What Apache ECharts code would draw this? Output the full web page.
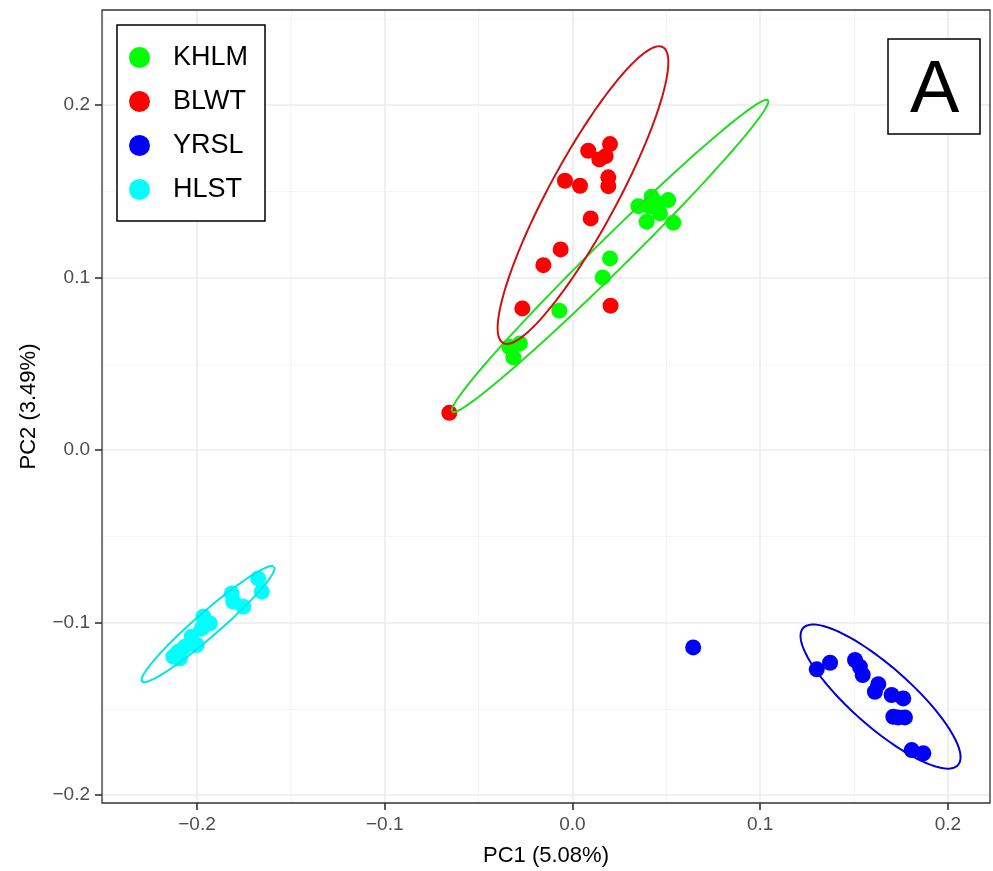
<!DOCTYPE html>
<html lang="en">
<head>
    <meta charset="UTF-8">
    <title>PCA</title>
    <script type="text/javascript" src="https://cdn.jsdelivr.net/npm/echarts@6/dist/echarts.min.js"></script>
    <style>
        html, body { margin: 0; padding: 0; background: #fff; }
    </style>
</head>
<body>
<div id="main" style="width: 993px;height: 871px"></div>
</body>
<script>
    // group names and colours
    var groups = ["KHLM", "BLWT", "YRSL", "HLST"];
    var pointColors = ["#00FF00", "#FF0000", "#0000FF", "#00FFFF"];
    var lineColors = ["#22DD22", "#CC1111", "#0000D8", "#00E6E6"];

    // PC1, PC2 scores
    var khlm = [
        [0.0351, 0.1414], [0.0422, 0.1469], [0.0510, 0.1449], [0.0466, 0.1372], [0.0395, 0.1324],
        [0.0537, 0.1318], [0.0413, 0.1411], [0.0457, 0.1430], [0.0200, 0.1111], [0.0161, 0.1001],
        [-0.0070, 0.0808], [-0.0280, 0.0618], [-0.0315, 0.0537], [-0.0337, 0.0599]
    ];
    var blwt = [
        [0.0200, 0.1774], [0.0084, 0.1735], [0.0143, 0.1685], [0.0177, 0.1704], [-0.0040, 0.1561],
        [0.0040, 0.1532], [0.0191, 0.1581], [0.0191, 0.1530], [0.0097, 0.1343], [-0.0063, 0.1163],
        [-0.0155, 0.1072], [-0.0267, 0.0821], [0.0203, 0.0837], [-0.0656, 0.0216]
    ];
    var yrsl = [
        [0.0643, -0.1144], [0.1301, -0.1271], [0.1372, -0.1233], [0.1505, -0.1217], [0.1531, -0.1256],
        [0.1546, -0.1304], [0.1629, -0.1357], [0.1611, -0.1401], [0.1700, -0.1420], [0.1762, -0.1440],
        [0.1709, -0.1546], [0.1771, -0.1550], [0.1735, -0.1550], [0.1807, -0.1739], [0.1869, -0.1758]
    ];
    var hlst = [
        [-0.1674, -0.0744], [-0.1655, -0.0821], [-0.1815, -0.0831], [-0.1807, -0.0879], [-0.1753, -0.0908],
        [-0.1966, -0.0966], [-0.1931, -0.1005], [-0.1975, -0.1034], [-0.2028, -0.1082], [-0.2002, -0.1130],
        [-0.2064, -0.1140], [-0.2100, -0.1169], [-0.2126, -0.1198], [-0.2091, -0.1208]
    ];
    var groupData = [khlm, blwt, yrsl, hlst];

    // 95% ellipses: centre, half major axis, half minor axis (data units)
    var ellCentre = [[0.0200, 0.1125], [0.0056, 0.1478], [0.1641, -0.1429], [-0.1941, -0.1009]];
    var ellMajor = [[0.0842, 0.0904], [0.0426, 0.0858], [0.0413, -0.0397], [0.0352, 0.0333]];
    var ellMinor = [[0.0060, -0.0066], [0.0159, -0.0094], [0.0106, 0.0130], [0.0043, -0.0052]];

    // axis ticks and grid lines
    var xTicks = [-0.2, -0.1, 0, 0.1, 0.2];
    var yTicks = [-0.2, -0.1, 0, 0.1, 0.2];
    var xMinor = [-0.25, -0.15, -0.05, 0.05, 0.15];
    var yMinor = [-0.15, -0.05, 0.05, 0.15, 0.25];

    function fmt(v) {
        if (Math.abs(v) < 1e-9) return "0.0";
        return (v < 0 ? "\u2212" : "") + Math.abs(v).toFixed(1);
    }

    function ellipsePath(i) {
        var pts = [];
        var n = 120;
        for (var k = 0; k <= n; k++) {
            var t = 2 * Math.PI * k / n;
            pts.push([
                ellCentre[i][0] + ellMajor[i][0] * Math.cos(t) + ellMinor[i][0] * Math.sin(t),
                ellCentre[i][1] + ellMajor[i][1] * Math.cos(t) + ellMinor[i][1] * Math.sin(t)
            ]);
        }
        return pts;
    }

    var gridLines = [];
    xMinor.forEach(function (v) { gridLines.push({xAxis: v, lineStyle: {color: "#F2F2F2", width: 0.8}}); });
    yMinor.forEach(function (v) { gridLines.push({yAxis: v, lineStyle: {color: "#F2F2F2", width: 0.8}}); });
    xTicks.forEach(function (v) { gridLines.push({xAxis: v, lineStyle: {color: "#EBEBEB", width: 1.6}}); });
    yTicks.forEach(function (v) { gridLines.push({yAxis: v, lineStyle: {color: "#EBEBEB", width: 1.6}}); });

    var series = [{
        name: "grid",
        type: "scatter",
        data: [],
        z: 1,
        silent: true,
        markLine: {
            z: 1,
            silent: true,
            symbol: ["none", "none"],
            label: {show: false},
            lineStyle: {type: "solid"},
            emphasis: {disabled: true},
            data: gridLines
        }
    }];
    for (var i = 0; i < groups.length; i++) {
        series.push({
            name: groups[i],
            type: "scatter",
            data: groupData[i],
            symbolSize: 16,
            z: 2,
            itemStyle: {color: pointColors[i], opacity: 1}
        });
    }
    for (var j = 0; j < groups.length; j++) {
        series.push({
            name: groups[j] + " ellipse",
            type: "line",
            data: ellipsePath(j),
            showSymbol: false,
            symbol: "none",
            z: 3,
            silent: true,
            lineStyle: {color: lineColors[j], width: 2}
        });
    }

    var myChart = echarts.init(document.getElementById("main"));
    myChart.setOption({
        animation: false,
        backgroundColor: "#fff",
        textStyle: {fontFamily: "Liberation Sans, Arial, sans-serif"},
        title: {
            text: "A",
            left: 888,
            top: 39,
            borderColor: "#000",
            borderWidth: 1.5,
            backgroundColor: "#fff",
            padding: [16, 21, 5, 22],
            textStyle: {fontSize: 74, fontWeight: "normal", color: "#000", lineHeight: 74}
        },
        legend: {
            data: groups,
            orient: "vertical",
            left: 117,
            top: 25,
            icon: "circle",
            itemWidth: 21,
            itemHeight: 21,
            itemGap: 17,
            padding: [19, 17, 18, 12],
            borderColor: "#000",
            borderWidth: 1.5,
            backgroundColor: "#fff",
            formatter: function (name) { return "{t|" + name + "}"; },
            textStyle: {
                rich: {
                    t: {fontSize: 27, color: "#000", lineHeight: 26, height: 26, padding: [0, 0, 0, 18],
                        fontFamily: "Liberation Sans, Arial, sans-serif"}
                }
            }
        },
        grid: {
            left: 102,
            right: 3,
            top: 10,
            bottom: 68,
            containLabel: false,
            outerBoundsMode: "none",
            show: true,
            z: 10,
            backgroundColor: "transparent",
            borderColor: "#333",
            borderWidth: 1.3
        },
        xAxis: {
            type: "value",
            min: -0.2506,
            max: 0.2224,
            name: "PC1 (5.08%)",
            nameLocation: "middle",
            nameGap: 42,
            nameTextStyle: {fontSize: 22, color: "#000"},
            axisLine: {show: false, onZero: false},
            splitLine: {show: false},
            axisTick: {show: true, customValues: xTicks, length: 7, lineStyle: {color: "#333", width: 1.6}},
            axisLabel: {customValues: xTicks, formatter: fmt, fontSize: 19, color: "#4D4D4D", margin: 12}
        },
        yAxis: {
            type: "value",
            min: -0.2046,
            max: 0.2551,
            name: "PC2 (3.49%)",
            nameLocation: "middle",
            nameGap: 62,
            nameTextStyle: {fontSize: 22, color: "#000"},
            axisLine: {show: false, onZero: false},
            splitLine: {show: false},
            axisTick: {show: true, customValues: yTicks, length: 7, lineStyle: {color: "#333", width: 1.6}},
            axisLabel: {customValues: yTicks, formatter: fmt, fontSize: 19, color: "#4D4D4D", margin: 12}
        },
        series: series
    });
</script>
</html>
